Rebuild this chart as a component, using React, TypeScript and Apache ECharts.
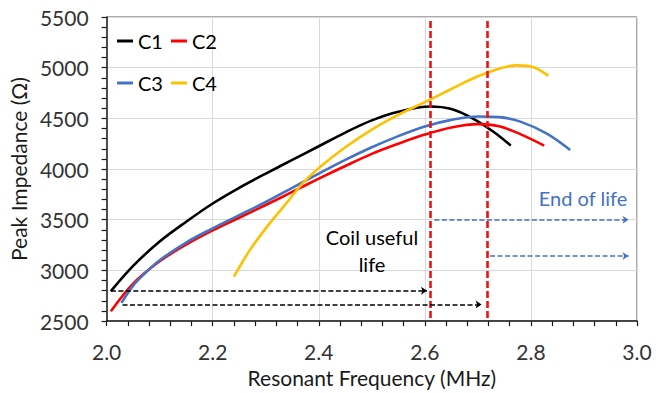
import React, { useEffect, useRef } from "react";
import * as echarts from "echarts";

const xTicks = [2.0, 2.2, 2.4, 2.6, 2.8, 3.0];
const yTicks = [2500, 3000, 3500, 4000, 4500, 5000, 5500];

const c1: [number, number][] = [
  [2.008, 2795], [2.05, 3045], [2.1, 3285], [2.15, 3480], [2.2, 3660], [2.25, 3815],
  [2.3, 3955], [2.35, 4090], [2.4, 4225], [2.45, 4360], [2.5, 4480], [2.55, 4565],
  [2.61, 4617], [2.65, 4592], [2.69, 4500], [2.73, 4365], [2.762, 4231],
];
const c2: [number, number][] = [
  [2.008, 2597], [2.05, 2870], [2.1, 3090], [2.15, 3255], [2.2, 3395], [2.25, 3520],
  [2.3, 3645], [2.35, 3775], [2.4, 3905], [2.45, 4030], [2.5, 4150], [2.55, 4250],
  [2.6, 4340], [2.65, 4410], [2.7, 4443], [2.74, 4422], [2.78, 4345], [2.825, 4231],
];
const c3: [number, number][] = [
  [2.028, 2680], [2.05, 2850], [2.07, 2960], [2.1, 3100], [2.15, 3275], [2.2, 3415],
  [2.25, 3545], [2.3, 3675], [2.35, 3815], [2.4, 3955], [2.45, 4090], [2.5, 4215],
  [2.55, 4325], [2.6, 4420], [2.65, 4485], [2.7, 4518], [2.74, 4512], [2.78, 4468],
  [2.83, 4350], [2.874, 4188],
];
const c4: [number, number][] = [
  [2.24, 2938], [2.27, 3200], [2.3, 3415], [2.34, 3670], [2.37, 3860], [2.4, 4010],
  [2.45, 4215], [2.5, 4390], [2.55, 4535], [2.6, 4660], [2.65, 4790], [2.7, 4915],
  [2.74, 4990], [2.773, 5023], [2.805, 5005], [2.833, 4919],
];

// vertical red dashed limits (x, yTop)
const limitLines: [number, number][] = [[2.61, 5460], [2.717, 5460]];
// black dashed arrows: [xStart, xEnd, y]
const usefulArrows: [number, number, number][] = [[2.008, 2.604, 2800], [2.03, 2.707, 2663]];
// blue dashed arrows: [xStart, xEnd, y]
const endArrows: [number, number, number][] = [[2.618, 2.984, 3500], [2.723, 2.984, 3143]];

const FONT = "Lato, 'Open Sans', sans-serif";
const INK = "#1a1a1a";

export default function App() {
  const ref = useRef<HTMLDivElement>(null);
  useEffect(() => {
    document.body.style.margin = "0";
    if (!ref.current) return;
    const chart = echarts.init(ref.current, undefined, { renderer: "svg" });
    const lineSeries = (name: string, data: [number, number][], color: string) => ({
      name,
      type: "line",
      data,
      smooth: 0.35,
      showSymbol: false,
      symbol: "none",
      lineStyle: { color, width: 2.6 },
      itemStyle: { color },
      z: 3,
    });

    const markData: any[] = [];
    limitLines.forEach(([x, yTop]) => {
      markData.push([
        { coord: [x, yTop], symbol: "none", lineStyle: { color: "#ee1111", width: 2.6, type: [7, 3] } },
        { coord: [x, 2500], symbol: "none" },
      ]);
    });
    usefulArrows.forEach(([x0, x1, y]) => {
      markData.push([
        { coord: [x0, y], symbol: "none", lineStyle: { color: "#000", width: 1.5, type: [5, 2.5] } },
        { coord: [x1, y], symbol: "arrow", symbolSize: 6 },
      ]);
    });
    endArrows.forEach(([x0, x1, y]) => {
      markData.push([
        { coord: [x0, y], symbol: "none", lineStyle: { color: "#4472C4", width: 1.5, type: [5, 2.5] } },
        { coord: [x1, y], symbol: "arrow", symbolSize: 6 },
      ]);
    });

    const legendCommon = {
      icon: "rect",
      itemWidth: 16,
      itemHeight: 3,
      itemGap: 8,
      padding: 0,
      textStyle: { fontSize: 20, color: "#000", fontFamily: FONT },
    };

    const textEl = (text: string, x: number, y: number, fill: string) => ({
      type: "text",
      x,
      y,
      z: 10,
      style: {
        text,
        textAlign: "center",
        textVerticalAlign: "middle",
        font: `20px ${FONT}`,
        fill,
      },
    });

    chart.setOption({
      animation: false,
      backgroundColor: "#fff",
      textStyle: { fontFamily: FONT },
      grid: {
        left: 106,
        right: 28,
        top: 17,
        bottom: 68,
        show: true,
        borderColor: "#595959",
        borderWidth: 1,
      },
      legend: [
        { ...legendCommon, data: ["C1", "C2"], left: 117, top: 31 },
        { ...legendCommon, data: ["C3", "C4"], left: 117, top: 73 },
      ],
      xAxis: {
        type: "value",
        min: xTicks[0],
        max: xTicks[xTicks.length - 1],
        interval: 0.2,
        name: "Resonant Frequency (MHz)",
        nameLocation: "middle",
        nameGap: 42,
        nameTextStyle: { fontSize: 21, color: INK, fontFamily: FONT },
        axisLine: { show: true, lineStyle: { color: INK, width: 1.5 } },
        axisTick: { show: true, length: 5, lineStyle: { color: INK, width: 1.2 } },
        minorTick: { show: true, splitNumber: 5, length: 5, lineStyle: { color: INK, width: 1.2 } },
        axisLabel: {
          fontSize: 21,
          color: "#333",
          margin: 20,
          fontFamily: FONT,
          formatter: (v: number) => v.toFixed(1),
        },
        splitLine: { show: true, lineStyle: { color: "#d9d9d9", width: 1 } },
      },
      yAxis: {
        type: "value",
        min: yTicks[0],
        max: yTicks[yTicks.length - 1],
        interval: 500,
        name: "Peak Impedance (Ω)",
        nameLocation: "middle",
        nameGap: 75,
        nameTextStyle: { fontSize: 21, color: INK, fontFamily: FONT },
        axisLine: { show: true, lineStyle: { color: INK, width: 1.5 } },
        axisTick: { show: true, length: 5, lineStyle: { color: INK, width: 1.2 } },
        minorTick: { show: true, splitNumber: 5, length: 5, lineStyle: { color: INK, width: 1.2 } },
        axisLabel: {
          fontSize: 21,
          color: "#333",
          margin: 18,
          fontFamily: FONT,
          formatter: (v: number) => String(v),
        },
        splitLine: { show: true, lineStyle: { color: "#d9d9d9", width: 1 } },
      },
      series: [
        {
          ...lineSeries("C1", c1, "#000000"),
          markLine: {
            silent: true,
            animation: false,
            label: { show: false },
            emphasis: { disabled: true },
            data: markData,
            z: 4,
          },
        },
        lineSeries("C2", c2, "#ff0000"),
        lineSeries("C3", c3, "#4472C4"),
        lineSeries("C4", c4, "#FFC000"),
      ],
      graphic: [
        textEl("Coil useful", 372, 237, "#000"),
        textEl("life", 372, 264, "#000"),
        textEl("End of life", 583, 198, "#4472C4"),
      ],
    });
    return () => chart.dispose();
  }, []);
  return <div ref={ref} style={{ width: 665, height: 393 }} />;
}
